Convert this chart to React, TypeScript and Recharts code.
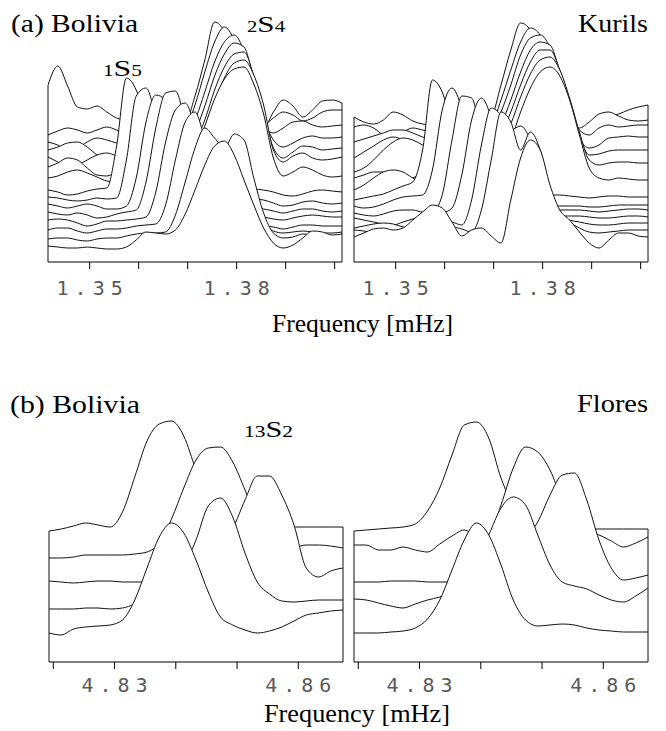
import React from "react";
import { ComposedChart, Area, XAxis, YAxis, ReferenceLine } from "recharts";

// frequency grids [mHz]
const FREQ_A = [
  1.3415, 1.3435, 1.3455, 1.3475, 1.3495, 1.3515, 1.3535, 1.3555, 1.3575, 1.3595, 1.3615,
  1.3635, 1.3655, 1.3675, 1.3695, 1.3715, 1.3735, 1.3755, 1.3775, 1.3795, 1.3815, 1.3835,
  1.3855, 1.3875, 1.3895, 1.3915, 1.3935, 1.3955, 1.3975, 1.3995, 1.4015,
];
const TICKS_A = [1.35, 1.36, 1.37, 1.38, 1.39, 1.4];
const LABELS_A = [1.35, 1.38];

const FREQ_B = [
  4.8193, 4.8213, 4.8233, 4.8253, 4.8273, 4.8293, 4.8313, 4.8333, 4.8353, 4.8373, 4.8393,
  4.8413, 4.8433, 4.8453, 4.8473, 4.8493, 4.8513, 4.8533, 4.8553, 4.8573, 4.8593, 4.8613,
  4.8633, 4.8653, 4.8673,
];
const TICKS_B = [4.82, 4.83, 4.84, 4.85, 4.86];
const LABELS_B = [4.83, 4.86];

// (a) Bolivia, 1S5 / 2S4 singlet stack, back trace first
const bolA0 = [175, 194, 174, 153, 151, 154, 148, 142, 140, 140, 140, 140, 141, 142, 138, 164, 200, 238, 228, 190, 155, 135, 132, 148, 160, 154, 143, 150, 159, 160, 157];
const bolA1 = [125, 129, 132, 130, 127, 130, 133, 130, 126, 125, 125, 125, 125, 127, 132, 155, 188, 218, 233, 220, 190, 155, 135, 142, 148, 145, 139, 142, 148, 150, 150];
const bolA2 = [118, 115, 110, 112, 118, 122, 120, 117, 115, 115, 115, 115, 115, 118, 124, 140, 168, 198, 218, 225, 208, 168, 135, 127, 132, 138, 139, 135, 133, 134, 135];
const bolA3 = [110, 113, 117, 118, 113, 105, 100, 102, 103, 103, 103, 103, 104, 107, 114, 128, 154, 184, 206, 217, 213, 180, 142, 120, 113, 117, 122, 124, 122, 122, 123];
const bolA4 = [103, 98, 93, 95, 100, 105, 107, 104, 100, 100, 100, 100, 101, 104, 108, 118, 140, 170, 193, 206, 208, 184, 148, 112, 102, 108, 114, 113, 110, 111, 112];
const bolA5 = [93, 97, 102, 100, 92, 85, 84, 88, 90, 90, 90, 90, 91, 94, 98, 108, 128, 156, 182, 197, 200, 185, 155, 110, 98, 104, 107, 102, 100, 101, 103];
const bolA6 = [82, 84, 88, 90, 87, 83, 79, 78, 78, 78, 79, 80, 82, 86, 92, 108, 134, 161, 181, 191, 193, 176, 146, 102, 84, 88, 93, 90, 85, 83, 84];
const bolA7 = [70, 68, 65, 66, 69, 71, 72, 114, 182, 170, 138, 110, 92, 82, 76, 73, 72, 72, 72, 72, 72, 71, 70, 68, 65, 64, 66, 69, 70, 69, 68];
const bolA8 = [63, 62, 60, 59, 60, 62, 61, 62, 100, 164, 172, 144, 110, 86, 72, 65, 63, 62, 62, 62, 62, 61, 60, 57, 54, 55, 58, 59, 57, 56, 57];
const bolA9 = [56, 54, 52, 54, 56, 54, 51, 51, 54, 82, 138, 165, 160, 127, 97, 72, 58, 54, 53, 53, 53, 52, 51, 49, 47, 49, 51, 51, 49, 48, 49];
const bolA10 = [48, 46, 45, 47, 45, 42, 43, 46, 48, 50, 78, 132, 167, 169, 138, 98, 68, 52, 46, 44, 44, 44, 43, 41, 40, 42, 44, 45, 44, 43, 43];
const bolA11 = [40, 41, 40, 37, 34, 36, 39, 39, 40, 41, 43, 68, 118, 150, 157, 132, 92, 62, 47, 40, 36, 34, 34, 33, 31, 33, 35, 35, 34, 34, 34];
const bolA12 = [30, 32, 32, 29, 27, 29, 31, 31, 32, 34, 35, 36, 55, 100, 138, 148, 122, 100, 92, 102, 88, 55, 35, 29, 27, 28, 29, 28, 27, 27, 28];
const bolA13 = [21, 22, 22, 20, 19, 21, 22, 22, 24, 26, 27, 27, 28, 45, 78, 112, 132, 122, 112, 126, 120, 82, 47, 27, 22, 23, 26, 25, 23, 21, 21];
const bolA14 = [14, 13, 12, 12, 13, 12, 11, 11, 13, 20, 28, 27, 26, 30, 46, 70, 95, 114, 119, 105, 80, 55, 32, 17, 12, 15, 22, 29, 28, 25, 26];

// (a) Kurils
const kurA0 = [143, 138, 136, 140, 148, 145, 139, 136, 135, 135, 135, 135, 135, 135, 142, 175, 210, 237, 230, 205, 175, 150, 135, 130, 136, 142, 144, 146, 150, 153, 155];
const kurA1 = [133, 135, 132, 125, 123, 128, 132, 130, 128, 128, 128, 128, 128, 130, 135, 160, 190, 218, 232, 225, 200, 165, 140, 132, 138, 146, 148, 144, 140, 139, 140];
const kurA2 = [118, 121, 124, 127, 130, 130, 127, 123, 120, 120, 120, 120, 120, 122, 128, 148, 175, 205, 222, 225, 212, 178, 145, 130, 125, 132, 135, 133, 134, 135, 135];
const kurA3 = [102, 108, 114, 120, 123, 120, 114, 110, 108, 108, 108, 108, 110, 113, 118, 135, 160, 188, 210, 218, 215, 188, 152, 122, 112, 115, 122, 123, 124, 123, 123];
const kurA4 = [88, 92, 100, 110, 118, 122, 120, 115, 110, 108, 108, 108, 109, 110, 114, 126, 148, 175, 198, 210, 210, 190, 160, 125, 105, 106, 109, 110, 110, 110, 110];
const kurA5 = [82, 85, 88, 88, 84, 80, 82, 88, 92, 92, 92, 92, 94, 98, 104, 116, 136, 163, 186, 200, 203, 190, 162, 128, 100, 95, 97, 98, 98, 97, 97];
const kurA6 = [70, 75, 82, 88, 90, 88, 82, 77, 75, 75, 75, 76, 78, 82, 88, 100, 120, 148, 172, 188, 193, 184, 160, 125, 92, 82, 80, 82, 81, 80, 80];
const kurA7 = [60, 62, 64, 66, 70, 74, 78, 110, 180, 168, 135, 105, 85, 75, 70, 68, 67, 66, 65, 65, 65, 65, 64, 63, 62, 63, 64, 64, 63, 63, 63];
const kurA8 = [54, 52, 53, 56, 60, 63, 64, 65, 90, 150, 172, 152, 115, 85, 65, 58, 55, 54, 54, 54, 54, 54, 54, 54, 53, 53, 54, 55, 55, 55, 55];
const kurA9 = [47, 45, 44, 46, 49, 50, 50, 48, 48, 65, 120, 164, 162, 125, 90, 65, 53, 50, 50, 50, 50, 50, 50, 50, 49, 48, 49, 50, 51, 51, 50];
const kurA10 = [42, 40, 38, 36, 35, 38, 41, 44, 46, 47, 52, 85, 140, 162, 142, 100, 68, 52, 46, 44, 44, 44, 44, 44, 43, 42, 42, 43, 44, 44, 43];
const kurA11 = [32, 34, 36, 37, 36, 33, 31, 33, 36, 39, 38, 35, 60, 115, 152, 145, 130, 134, 120, 90, 60, 45, 40, 38, 36, 35, 35, 36, 37, 37, 37];
const kurA12 = [30, 29, 27, 25, 24, 26, 28, 29, 31, 33, 33, 31, 28, 50, 100, 148, 138, 110, 128, 110, 70, 48, 38, 32, 28, 27, 28, 29, 30, 30, 30];
const kurA13 = [23, 27, 31, 32, 30, 32, 40, 48, 55, 52, 38, 24, 30, 32, 24, 17, 60, 102, 120, 110, 75, 50, 40, 28, 17, 12, 20, 27, 27, 24, 23];

// (b) Bolivia, 13S2
const bolB0 = [129, 131, 134, 137, 135, 133, 148, 183, 219, 236, 239, 224, 190, 160, 142, 135, 133, 133, 133, 133, 133, 133, 133, 133, 133];
const bolB1 = [102, 102, 103, 105, 105, 105, 105, 106, 108, 117, 141, 172, 200, 212, 213, 198, 170, 140, 120, 113, 113, 115, 115, 114, 112];
const bolB2 = [79, 78, 77, 78, 79, 79, 78, 78, 78, 78, 80, 85, 95, 108, 120, 132, 160, 184, 184, 165, 135, 92, 83, 89, 92];
const bolB3 = [51, 51, 51, 52, 52, 51, 52, 56, 62, 70, 80, 94, 120, 154, 162, 143, 107, 78, 66, 59, 58, 59, 60, 60, 60];
const bolB4 = [27, 25, 31, 33, 34, 35, 40, 60, 92, 123, 137, 127, 100, 68, 43, 35, 30, 27, 29, 33, 39, 45, 47, 49, 50];

// (b) Flores
const floB0 = [129, 130, 131, 132, 133, 136, 149, 172, 205, 235, 238, 222, 182, 155, 140, 133, 131, 131, 131, 131, 131, 131, 131, 131, 131];
const floB1 = [115, 115, 110, 110, 113, 110, 108, 116, 124, 130, 125, 125, 155, 192, 213, 208, 190, 160, 138, 128, 125, 119, 113, 117, 123];
const floB2 = [78, 78, 78, 79, 79, 79, 78, 78, 78, 79, 82, 88, 98, 110, 122, 138, 165, 185, 187, 160, 120, 92, 80, 82, 85];
const floB3 = [61, 60, 57, 54, 52, 56, 60, 63, 68, 80, 100, 125, 152, 163, 155, 125, 95, 78, 74, 71, 65, 60, 58, 64, 72];
const floB4 = [27, 27, 27, 28, 29, 32, 41, 60, 90, 120, 137, 125, 95, 60, 40, 34, 35, 36, 35, 32, 30, 29, 28, 28, 28];

const BOLIVIA_A = [bolA0, bolA1, bolA2, bolA3, bolA4, bolA5, bolA6, bolA7, bolA8, bolA9, bolA10, bolA11, bolA12, bolA13, bolA14];
const KURILS_A = [kurA0, kurA1, kurA2, kurA3, kurA4, kurA5, kurA6, kurA7, kurA8, kurA9, kurA10, kurA11, kurA12, kurA13];
const BOLIVIA_B = [bolB0, bolB1, bolB2, bolB3, bolB4];
const FLORES_B = [floB0, floB1, floB2, floB3, floB4];

function buildRows(freqs: number[], traces: number[][]) {
  return freqs.map((f, i) => {
    const row: Record<string, number> = { f };
    traces.forEach((t, k) => {
      row["t" + k] = t[i];
    });
    return row;
  });
}

function FreqTick(props: any) {
  const { x, y, payload, labels, dy } = props;
  const show = labels.some((l: number) => Math.abs(l - payload.value) < 1e-6);
  if (!show) return <g />;
  return (
    <text
      x={x + 3}
      y={y + dy}
      textAnchor="middle"
      style={{ fontFamily: "'DejaVu Sans Mono', monospace", fontSize: 20, letterSpacing: 6 }}
      fill="#5a5a5a"
    >
      {payload.value.toFixed(2)}
    </text>
  );
}

interface PanelProps {
  left: number;
  top: number;
  width: number;
  height: number;
  marginLeft: number;
  marginRight: number;
  freqs: number[];
  traces: number[][];
  ticks: number[];
  labels: number[];
  yMax: number;
  labelDy: number;
}

function Panel({ left, top, width, height, marginLeft, marginRight, freqs, traces, ticks, labels, yMax, labelDy }: PanelProps) {
  const rows = buildRows(freqs, traces);
  const back = traces[0];
  const f0 = freqs[0];
  const f1 = freqs[freqs.length - 1];
  return (
    <div style={{ position: "absolute", left, top }}>
      <ComposedChart
        width={width}
        height={height}
        data={rows}
        margin={{ top: 0, right: marginRight, bottom: 0, left: marginLeft }}
      >
        <XAxis
          dataKey="f"
          type="number"
          domain={[f0, f1]}
          ticks={ticks}
          interval={0}
          height={38}
          tickSize={7}
          axisLine={{ stroke: "#000" }}
          tickLine={{ stroke: "#000" }}
          tick={(p: any) => <FreqTick {...p} labels={labels} dy={labelDy} />}
          allowDataOverflow
        />
        <YAxis hide domain={[-2, yMax]} allowDataOverflow />
        {traces.map((_, k) => (
          <Area
            key={k}
            dataKey={"t" + k}
            type="monotone"
            stroke="#111"
            strokeWidth={1}
            fill="#fff"
            fillOpacity={1}
            baseValue={0}
            dot={false}
            activeDot={false}
            isAnimationActive={false}
          />
        ))}
        <ReferenceLine segment={[{ x: f0, y: -2 }, { x: f0, y: back[0] }]} stroke="#111" />
        <ReferenceLine segment={[{ x: f1, y: -2 }, { x: f1, y: back[back.length - 1] }]} stroke="#111" />
      </ComposedChart>
    </div>
  );
}

const serif = { fontFamily: "'Liberation Serif', 'Times New Roman', serif" };
const stretch = { lengthAdjust: "spacingAndGlyphs" } as any;

export default function App() {
  return (
    <div style={{ position: "absolute", left: 0, top: 0, width: 666, height: 731, background: "#fff" }}>
      <Panel left={0} top={0} width={350} height={300} marginLeft={48} marginRight={8}
        freqs={FREQ_A} traces={BOLIVIA_A} ticks={TICKS_A} labels={LABELS_A} yMax={260} labelDy={24} />
      <Panel left={350} top={0} width={310} height={300} marginLeft={4} marginRight={12}
        freqs={FREQ_A} traces={KURILS_A} ticks={TICKS_A} labels={LABELS_A} yMax={260} labelDy={24} />
      <Panel left={0} top={370} width={350} height={330} marginLeft={49} marginRight={7}
        freqs={FREQ_B} traces={BOLIVIA_B} ticks={TICKS_B} labels={LABELS_B} yMax={290} labelDy={21} />
      <Panel left={350} top={370} width={310} height={330} marginLeft={4} marginRight={12}
        freqs={FREQ_B} traces={FLORES_B} ticks={TICKS_B} labels={LABELS_B} yMax={290} labelDy={21} />

      <svg width={666} height={731} style={{ position: "absolute", left: 0, top: 0, pointerEvents: "none", ...serif }}>
        <g fill="#000" style={serif}>
          <text x={11} y={32} textLength={127} {...stretch} style={{ ...serif, fontSize: 25.5 }}>(a) Bolivia</text>
          <text x={578} y={32} textLength={70} {...stretch} style={{ ...serif, fontSize: 25.5 }}>Kurils</text>
          <text x={247} y={32} textLength={38} {...stretch} style={serif}>
            <tspan style={{ fontSize: 16 }}>2</tspan>
            <tspan style={{ fontSize: 24 }}>S</tspan>
            <tspan style={{ fontSize: 16 }}>4</tspan>
          </text>
          <text x={103} y={76} textLength={39} {...stretch} style={serif}>
            <tspan style={{ fontSize: 16 }}>1</tspan>
            <tspan style={{ fontSize: 24 }}>S</tspan>
            <tspan style={{ fontSize: 16 }}>5</tspan>
          </text>
          <text x={272} y={332} textLength={181} {...stretch} style={{ ...serif, fontSize: 25.5 }}>Frequency [mHz]</text>

          <text x={10} y={413} textLength={130} {...stretch} style={{ ...serif, fontSize: 25.5 }}>(b) Bolivia</text>
          <text x={577} y={412} textLength={71} {...stretch} style={{ ...serif, fontSize: 25.5 }}>Flores</text>
          <text x={244} y={437} textLength={49} {...stretch} style={serif}>
            <tspan style={{ fontSize: 17 }}>13</tspan>
            <tspan style={{ fontSize: 24 }}>S</tspan>
            <tspan style={{ fontSize: 17 }}>2</tspan>
          </text>
          <text x={264} y={722} textLength={186} {...stretch} style={{ ...serif, fontSize: 25.5 }}>Frequency [mHz]</text>
        </g>
      </svg>
    </div>
  );
}
